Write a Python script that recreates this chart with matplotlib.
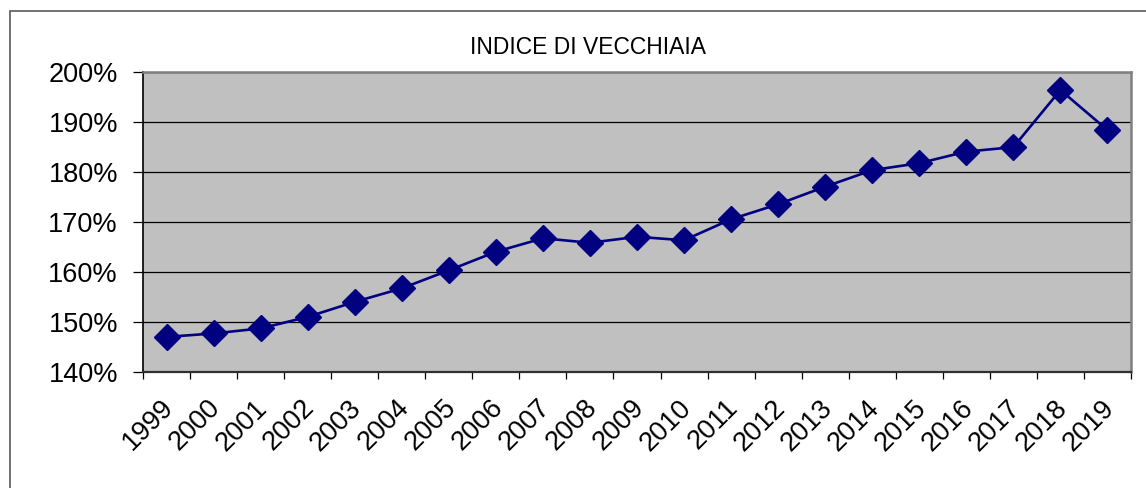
import matplotlib
matplotlib.use("Agg")
import matplotlib.pyplot as plt
from matplotlib.patches import Rectangle
from matplotlib.transforms import ScaledTranslation

years = ["1999", "2000", "2001", "2002", "2003", "2004", "2005", "2006", "2007",
         "2008", "2009", "2010", "2011", "2012", "2013", "2014", "2015", "2016",
         "2017", "2018", "2019"]
indice = [147.0, 147.7, 148.7, 151.0, 154.0, 156.7, 160.3, 164.0, 166.7,
          165.8, 167.0, 166.3, 170.5, 173.5, 177.0, 180.3, 181.7, 184.0,
          184.9, 196.3, 188.3]
y_ticks = [140, 150, 160, 170, 180, 190, 200]
y_labels = ["140%", "150%", "160%", "170%", "180%", "190%", "200%"]
title = "INDICE DI VECCHIAIA"

plt.rcParams['font.family'] = ['Liberation Sans', 'DejaVu Sans']

W, H = 1146, 488
fig = plt.figure(figsize=(W / 100, H / 100), dpi=100)
fig.patch.set_facecolor('white')

# outer chart frame
fig.add_artist(Rectangle((10 / W, -0.05), 1.2, (H - 11) / H + 0.05,
                         transform=fig.transFigure, fill=False,
                         edgecolor='#5a5a5a', linewidth=1.2))

ax = fig.add_axes([143 / W, 1 - 372 / H, (1131 - 143) / W, (372 - 71.5) / H])
ax.set_facecolor('#C0C0C0')

x = list(range(len(years)))
ax.plot(x, indice, color='#000080', linewidth=1.9, marker='D',
        markersize=13, markerfacecolor='#000080', markeredgecolor='#000080',
        zorder=3)

ax.set_xlim(-0.5, len(years) - 0.5)
ax.set_ylim(140, 200)
ax.set_yticks(y_ticks)
ax.set_yticklabels(y_labels, fontsize=19.5)
ax.yaxis.grid(True, color='black', linewidth=0.9)
ax.set_axisbelow(True)

# ticks at category boundaries, labels at centers
ax.set_xticks([i - 0.5 for i in range(len(years) + 1)])
ax.set_xticklabels([])
ax.set_xticks(x, minor=True)
ax.set_xticklabels(years, minor=True, fontsize=19.5, rotation=45,
                   ha='right', va='center', rotation_mode='anchor')
ax.tick_params(axis='x', which='minor', length=0, pad=23)
ax.tick_params(axis='x', which='major', length=5, width=0.9, color='black')
ax.tick_params(axis='y', length=7, width=0.9, pad=11, color='black')
shift = ScaledTranslation(3 / 100, 0, fig.dpi_scale_trans)
for lbl in ax.get_xticklabels(minor=True):
    lbl.set_transform(lbl.get_transform() + shift)

ax.spines['left'].set_color('black')
ax.spines['left'].set_linewidth(1.2)
ax.spines['bottom'].set_color('#303030')
ax.spines['bottom'].set_linewidth(1.6)
ax.spines['top'].set_color('#808080')
ax.spines['top'].set_linewidth(1.8)
ax.spines['right'].set_color('#808080')
ax.spines['right'].set_linewidth(1.8)

fig.text(588 / W, 1 - 48 / H, title, ha='center', va='center', fontsize=16.5)

fig.savefig('out.png', dpi=100)
